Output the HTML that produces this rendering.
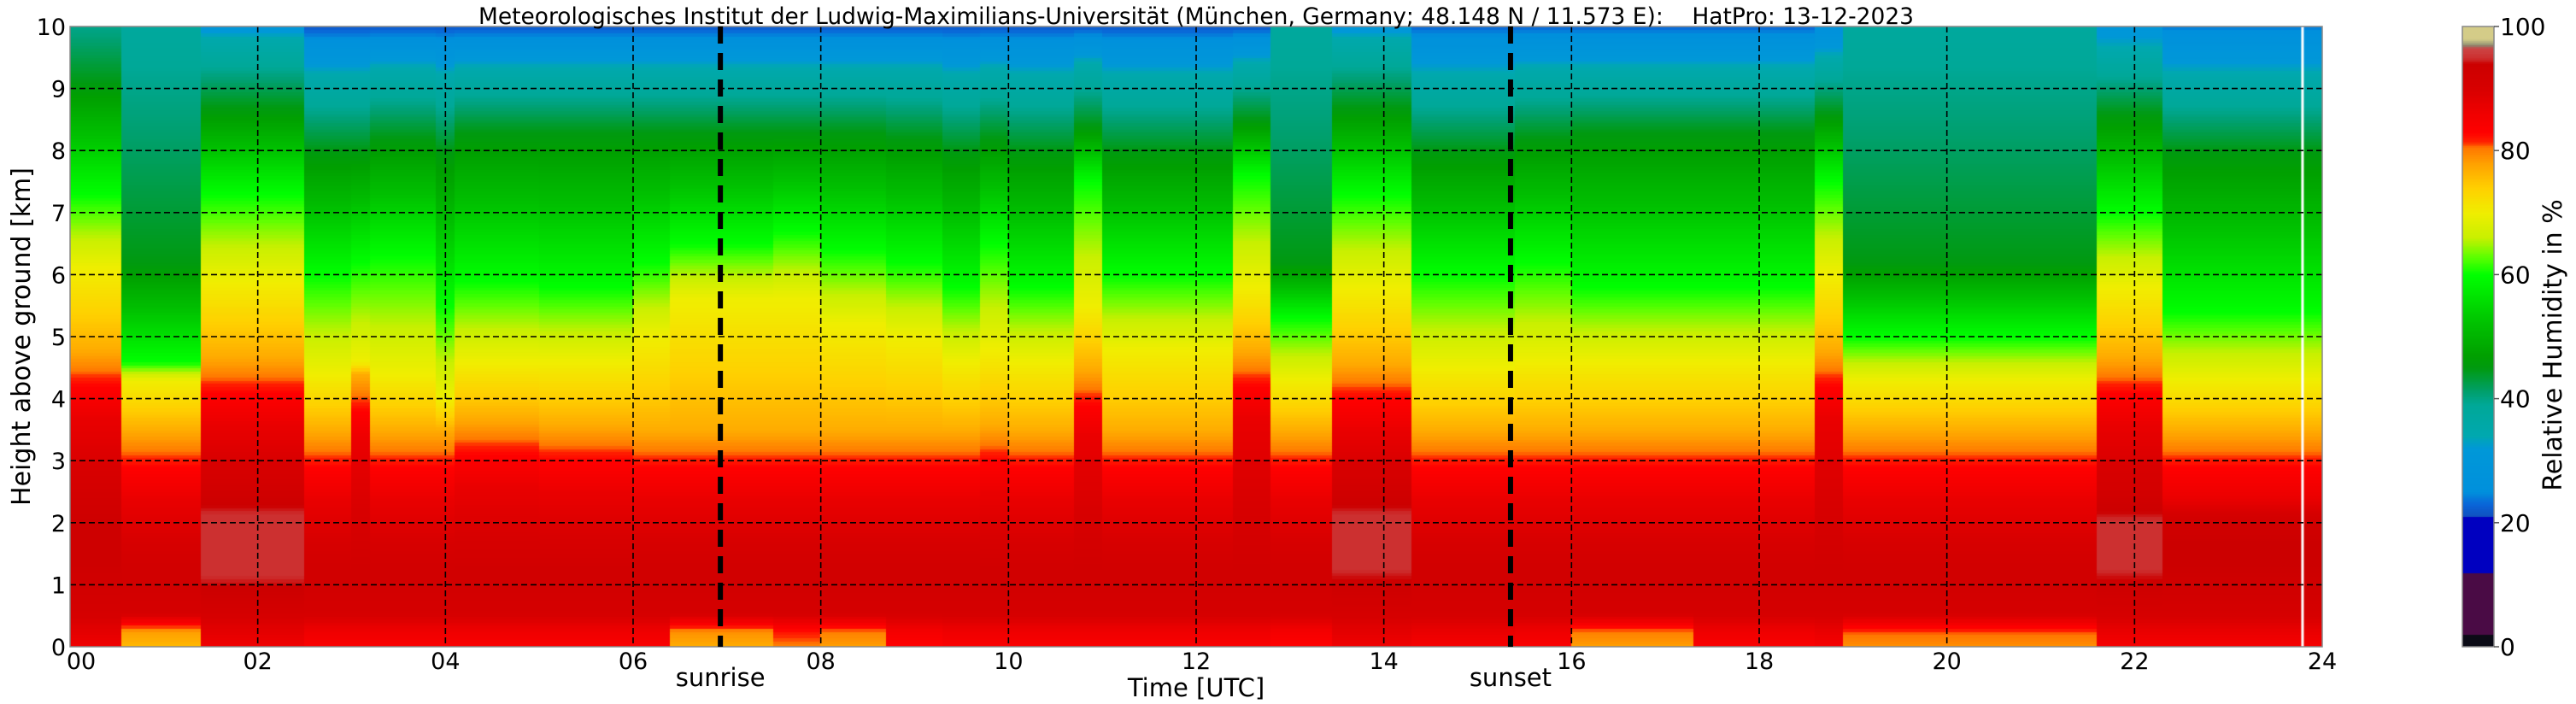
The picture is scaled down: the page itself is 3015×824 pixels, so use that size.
<!DOCTYPE html>
<html><head><meta charset="utf-8"><style>
html,body{margin:0;padding:0;background:#fff;width:3015px;height:824px;overflow:hidden}
#wrap{position:relative;width:3015px;height:824px}
canvas{position:absolute}
svg{position:absolute;left:0;top:0}
text{font-family:"DejaVu Sans","Liberation Sans",sans-serif;fill:#000}
</style></head><body>
<div id="wrap">
<canvas id="hm" style="left:82px;top:31px" width="2636" height="726"></canvas>
<canvas id="cb" style="left:2882px;top:31px" width="37" height="726"></canvas>
<svg id="ov" width="3015" height="824"></svg>
</div>
<script>
// ---- data ----
const hours = [0.0,0.55,1.4,2.5,3.0,3.2,3.9,4.1,5.0,6.0,6.4,7.5,8.0,8.7,9.3,9.7,10.0,10.7,11.0,12.4,12.8,13.45,14.3,15.4,16.0,17.3,18.6,18.9,21.6,22.3,23.0];
const h80 = [4.3,3.0,4.2,3.0,3.9,3.0,3.0,3.2,3.1,3.0,3.0,3.0,3.0,3.0,3.0,3.1,3.0,4.0,3.0,4.3,3.0,4.1,3.0,3.0,3.0,3.0,4.3,3.0,4.2,3.0,3.0];
const h70 = [6.1,4.3,5.9,4.4,4.6,4.4,4.0,4.6,4.6,5.0,5.6,5.6,5.2,5.0,4.6,4.8,4.6,5.5,4.8,5.8,4.3,5.8,4.5,4.6,4.6,4.6,6.0,4.3,5.8,4.3,4.3];
const h60 = [7.3,4.6,7.3,6.0,6.2,6.3,5.5,5.9,5.8,6.2,6.5,6.7,6.4,6.2,5.8,6.5,5.8,7.5,6.0,7.6,5.3,7.3,6.0,6.2,5.8,5.8,7.5,5.0,7.0,5.4,5.4];
const h45 = [9.1,6.2,8.7,8.0,8.0,8.2,8.0,8.3,8.3,8.3,8.3,8.3,8.3,8.2,8.0,8.2,8.0,8.4,8.0,8.5,6.2,8.7,8.0,8.2,8.3,8.3,8.6,6.2,8.6,8.0,8.0];
const h35 = [10.8,11.5,9.8,9.2,9.2,9.3,9.2,9.3,9.3,9.3,9.3,9.3,9.3,9.3,9.2,9.3,9.2,9.4,9.2,9.4,11.5,9.8,9.2,9.3,9.3,9.3,9.5,11.5,9.6,9.2,9.2];
const rh0 = [86,76,86,84,84,84,84,84,84,84,77,80,78,83,84,84,84,84,84,84,83,86,85,84,78,84,85,79,85,85,85];
const rhTop = [38,36,30,22,22,22,22,22,22,22,22,22,22,22,22,22,22,22,22,22,34,30,23,23,23,23,25,34,30,24,24];
const pLo = [1.3,0,1.0,0,0,0,0,0,0,0,0,0,0,0,0,0,0,0,0,0,0,1.1,0,0,0,0,0,0,1.1,1.2,1.2];
const pHi = [2.1,0,2.3,0,0,0,0,0,0,0,0,0,0,0,0,0,0,0,0,0,0,2.3,0,0,0,0,0,0,2.2,1.8,1.8];
const pVal = [93.5,0,95,0,0,0,0,0,0,0,0,0,0,0,0,0,0,0,0,0,0,95,0,0,0,0,0,0,95,94,94];
const gapHour = [23.79];
const xTicks = ["00","02","04","06","08","10","12","14","16","18","20","22","24"];
const yTicks = [0,1,2,3,4,5,6,7,8,9,10];
const cbTicks = [0,20,40,60,80,100];
const sunrise = 6.93, sunset = 15.35;

// colormap definition
const cmV = [0,2,2.01,12,12.01,21,21.01,23,25,32,34,39,41,45,47,52,57,60,63,66,70,74,78,80.5,81.5,83,86,90,94,95,96.5,97,98,100];
const cmC = ["#0b0b16","#0b0b16","#4a0b45","#4a0b45","#0000c0","#0000c0","#1050c0","#0a64d8","#0090dc","#0098d8","#00a8b0","#00a898","#00a070","#009a10","#00a000","#00c000","#00e800","#00ff00","#60ff00","#c8f000","#f0ee00","#ffd000","#ffa000","#ff7800","#ff2000","#ff0000","#f00000","#d80000","#cc0000","#cc3030","#cc4444","#888870","#d4cc88","#d4cc88"];

// ---- axes ----
const X0=82, X1=2718, Y0=757, Y1=31;
const xs = h => X0 + (X1-X0)*h/24;
const ys = z => Y0 - (Y0-Y1)*z/10;
const cbY = v => Y0 - (Y0-Y1)*v/100;

function hex(c){return [parseInt(c.substr(1,2),16),parseInt(c.substr(3,2),16),parseInt(c.substr(5,2),16)];}
function cmap(v){
  v=Math.max(0,Math.min(100,v));
  for(let k=0;k<cmV.length-1;k++){
    if(v<=cmV[k+1]){
      const t=(v-cmV[k])/(cmV[k+1]-cmV[k]||1);
      const a=hex(cmC[k]),b=hex(cmC[k+1]);
      return `rgb(${Math.round(a[0]+(b[0]-a[0])*t)},${Math.round(a[1]+(b[1]-a[1])*t)},${Math.round(a[2]+(b[2]-a[2])*t)})`;
    }
  }
  return cmC[cmC.length-1];
}
function rhAt(i,z){
  let k=[[0,rh0[i]],[0.25,rh0[i]+2],[0.55,91]];
  if(pHi[i]>0){k.push([pLo[i]-0.25,92.5],[pLo[i]+0.15,pVal[i]],[pHi[i]-0.15,pVal[i]],[pHi[i]+0.25,92]);}
  else k.push([1.2,92.5]);
  k.push([h80[i]-0.6,87],[h80[i]-0.1,83],[h80[i]+0.5,77],[h70[i],70],[h60[i],60],[h45[i],45],[h35[i],35]);
  if(h35[i]<10) k.push([10,rhTop[i]]);
  k.sort((a,b)=>a[0]-b[0]);
  for(let j=0;j<k.length-1;j++){
    if(z<=k[j+1][0]){const t=(z-k[j][0])/((k[j+1][0]-k[j][0])||1);return k[j][1]+(k[j+1][1]-k[j][1])*t;}
  }
  return k[k.length-1][1];
}
// heatmap
const ctx=document.getElementById('hm').getContext('2d');
const dz=0.05;
for(let i=0;i<hours.length;i++){
  const t0=hours[i], t1=(i+1<hours.length)?hours[i+1]:24;
  const xa=xs(t0)-X0, xb=xs(t1)-X0;
  for(let z=0;z<10;z+=dz){
    ctx.fillStyle=cmap(rhAt(i,z+dz/2));
    const ya=ys(z+dz)-Y1, yb=ys(z)-Y1;
    ctx.fillRect(Math.floor(xa),Math.floor(ya),Math.ceil(xb-xa)+1,Math.ceil(yb-ya)+1);
  }
}
ctx.fillStyle="#fff";
gapHour.forEach(g=>ctx.fillRect(xs(g)-X0-1.5,0,3,726));
// colorbar
const cctx=document.getElementById('cb').getContext('2d');
for(let v=0;v<100;v+=0.25){
  cctx.fillStyle=cmap(v+0.125);
  const ya=cbY(v+0.25)-Y1, yb=cbY(v)-Y1;
  cctx.fillRect(0,Math.floor(ya),37,Math.ceil(yb-ya)+1);
}

// overlay svg
const NS="http://www.w3.org/2000/svg";
const svg=document.getElementById('ov');
function el(tag,attrs,txt){const e=document.createElementNS(NS,tag);for(const k in attrs)e.setAttribute(k,attrs[k]);if(txt!==undefined)e.textContent=txt;svg.appendChild(e);return e;}

xTicks.forEach((lab,i)=>{
  const h=i*2, x=xs(h);
  if(h>0&&h<24){
    const g=el('line',{x1:x,y1:Y1,x2:x,y2:Y0,stroke:'#000','stroke-width':1.6,'stroke-dasharray':'7,4'});
    
    
  }
  const t=el('text',{x:(h===0?X0+13:x),y:783,'font-size':27,'text-anchor':'middle'},lab);
  
  
});
yTicks.forEach(v=>{
  const y=ys(v);
  if(v>0&&v<10){
    const g=el('line',{x1:X0,y1:y,x2:X1,y2:y,stroke:'#000','stroke-width':1.6,'stroke-dasharray':'7,4'});
    
    
  }
  const t=el('text',{x:77,y:y+10,'font-size':27,'text-anchor':'end'},String(v));
  
  
});
const frame=el('rect',{x:X0,y:Y1,width:X1-X0,height:Y0-Y1,fill:'none',stroke:'#888','stroke-width':1.5});


[[sunrise,'sunrise-line','sunrise','sunrise-label'],[sunset,'sunset-line','sunset','sunset-label']].forEach(s=>{
  const l=el('line',{x1:xs(s[0]),y1:Y1,x2:xs(s[0]),y2:Y0,stroke:'#000','stroke-width':6,'stroke-dasharray':'20,11'});
  
  
  const t=el('text',{x:xs(s[0]),y:803,'font-size':29,'text-anchor':'middle'},s[2]);
  
  
});
const cbf=el('rect',{x:2882,y:Y1,width:37,height:Y0-Y1,fill:'none',stroke:'#888','stroke-width':1.5});


cbTicks.forEach(v=>{
  const tk=el('line',{x1:2919,y1:cbY(v),x2:2925,y2:cbY(v),stroke:'#555','stroke-width':1.5});
  
  
  const t=el('text',{x:2926,y:cbY(v)+10,'font-size':28},String(v));
  
  
});
</script>
<svg width="3015" height="824" style="position:absolute;left:0;top:0;pointer-events:none">
<text x="1400" y="28" font-size="27" text-anchor="middle" textLength="1680" lengthAdjust="spacingAndGlyphs" xml:space="preserve">Meteorologisches Institut der Ludwig-Maximilians-Universität (München, Germany; 48.148 N / 11.573 E):    HatPro: 13-12-2023</text>
<text x="1400" y="815" font-size="29" text-anchor="middle">Time [UTC]</text>
<text x="0" y="0" font-size="30" text-anchor="middle" transform="translate(35,394) rotate(-90)">Height above ground [km]</text>
<text x="0" y="0" font-size="30" text-anchor="middle" transform="translate(2998,404) rotate(-90)">Relative Humidity in %</text>
</svg>
</body></html>
